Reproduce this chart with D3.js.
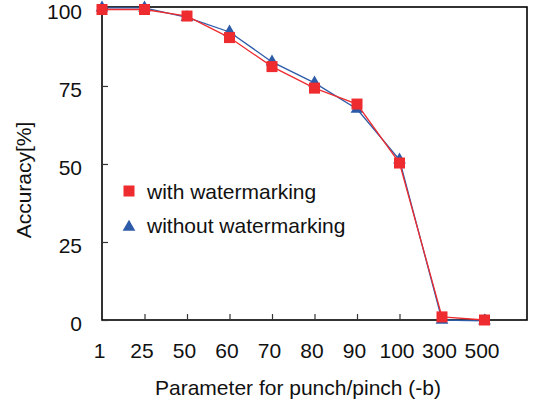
<!DOCTYPE html>
<html>
<head>
<meta charset="utf-8">
<script src="https://cdn.jsdelivr.net/npm/d3@7"></script>
<style>
  body { margin: 0; background: #fff; }
  text { font-family: "Liberation Sans", Arial, sans-serif; }
</style>
</head>
<body>
<svg id="chart" width="533" height="405"></svg>
<script>
// data
const categories = ["1", "25", "50", "60", "70", "80", "90", "100", "300", "500"];
const withWatermark = [99.5, 99.5, 97.4, 90.5, 81.2, 74.3, 69.2, 50.3, 1.0, 0.0];
const withoutWatermark = [100, 100, 97.0, 92.3, 82.7, 76.0, 67.6, 51.3, 0.0, -0.3];
const yTicks = [0, 25, 50, 75, 100];

const svg = d3.select("#chart");
const margin = { top: 7, right: 6, bottom: 85, left: 102 };
const width = 533 - margin.left - margin.right;
const height = 405 - margin.top - margin.bottom;

const g = svg.append("g")
    .attr("transform", `translate(${margin.left}, ${margin.top})`);

// categories at even steps, one empty step after the last one
const x = d3.scaleLinear()
    .domain([0, 10])
    .range([0, width]);
const y = d3.scaleLinear()
    .domain([0, 100.3])
    .range([height, 0]);

// frame
g.append("rect")
    .attr("width", width)
    .attr("height", height)
    .attr("fill", "none")
    .attr("stroke", "#000")
    .attr("stroke-width", 1.6);

// y axis, ticks inside
const yAxis = g.append("g")
    .call(d3.axisLeft(y).tickValues(yTicks).tickSize(-6).tickPadding(20));
yAxis.select(".domain").remove();
yAxis.selectAll("line").attr("stroke", "#333").attr("stroke-width", 1.2);
yAxis.selectAll("text")
    .style("font-size", "21px")
    .attr("fill", "#111")
    .attr("dy", "0.5em");

// x axis, ticks inside
const xAxis = g.append("g")
    .attr("transform", `translate(0, ${height})`)
    .call(d3.axisBottom(x)
        .tickValues(d3.range(categories.length))
        .tickFormat(i => categories[i])
        .tickSize(-6)
        .tickPadding(23));
xAxis.select(".domain").remove();
xAxis.selectAll(".tick").filter(i => i === 0).select("line").remove();
xAxis.selectAll("line").attr("stroke", "#333").attr("stroke-width", 1.2);
xAxis.selectAll("text")
    .style("font-size", "21px")
    .attr("fill", "#111")
    .attr("dx", "-3px");

// axis titles
svg.append("text")
    .attr("x", 298)
    .attr("y", 395)
    .attr("text-anchor", "middle")
    .style("font-size", "21px")
    .attr("fill", "#111")
    .text("Parameter for punch/pinch (-b)");

svg.append("text")
    .attr("transform", "translate(31, 180) rotate(-90)")
    .attr("text-anchor", "middle")
    .style("font-size", "21px")
    .attr("fill", "#111")
    .text("Accuracy[%]");

const red = "#ee2b2f";
const blue = "#2d5ba8";

const line = d3.line()
    .x((d, i) => x(i))
    .y(d => y(d));

// blue series
g.append("path")
    .datum(withoutWatermark)
    .attr("d", line)
    .attr("fill", "none")
    .attr("stroke", blue)
    .attr("stroke-width", 1.3);

g.selectAll(".tri")
    .data(withoutWatermark)
    .join("path")
    .attr("class", "tri")
    .attr("d", d3.symbol(d3.symbolTriangle, 70))
    .attr("transform", (d, i) => `translate(${x(i)}, ${y(d)})`)
    .attr("fill", blue);

// red series
g.append("path")
    .datum(withWatermark)
    .attr("d", line)
    .attr("fill", "none")
    .attr("stroke", red)
    .attr("stroke-width", 1.3);

g.selectAll(".sq")
    .data(withWatermark)
    .join("rect")
    .attr("class", "sq")
    .attr("x", (d, i) => x(i) - 5.5)
    .attr("y", d => y(d) - 5.5)
    .attr("width", 11)
    .attr("height", 11)
    .attr("fill", red);

// legend
const legend = svg.append("g").attr("transform", "translate(129, 191)");
legend.append("rect")
    .attr("x", -5.5).attr("y", -5.5)
    .attr("width", 11).attr("height", 11)
    .attr("fill", red);
legend.append("text")
    .attr("x", 18).attr("y", 7.5)
    .style("font-size", "21px")
    .attr("fill", "#111")
    .text("with watermarking");
legend.append("path")
    .attr("d", d3.symbol(d3.symbolTriangle, 70))
    .attr("transform", "translate(0, 36)")
    .attr("fill", blue);
legend.append("text")
    .attr("x", 18).attr("y", 42)
    .style("font-size", "21px")
    .attr("fill", "#111")
    .text("without watermarking");
</script>
</body>
</html>
